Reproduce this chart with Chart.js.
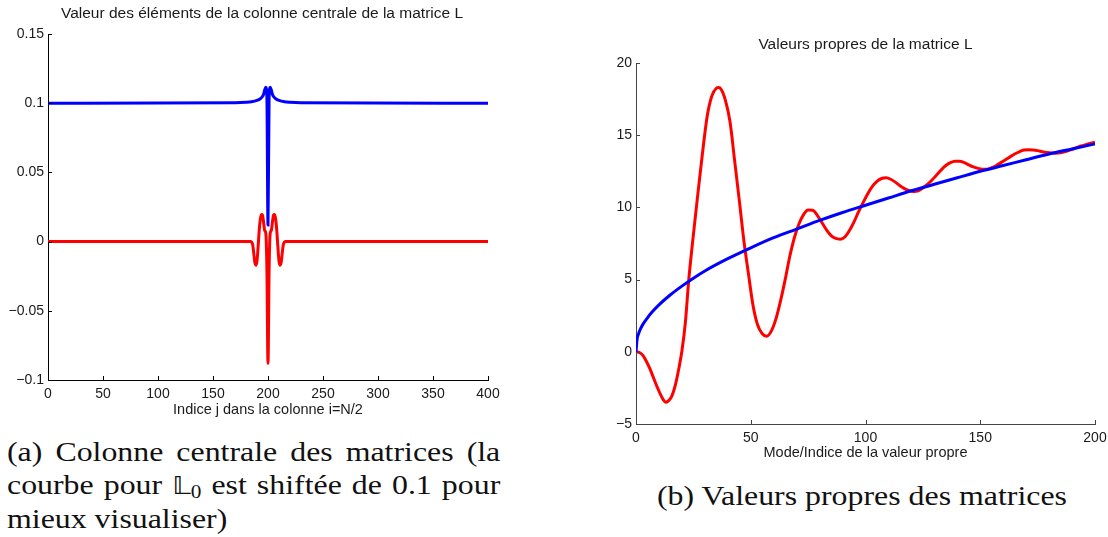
<!DOCTYPE html>
<html>
<head>
<meta charset="utf-8">
<script src="https://cdn.jsdelivr.net/npm/chart.js@4.4.1/dist/chart.umd.min.js"></script>
<style>
  html, body { margin: 0; padding: 0; background: #fff; overflow: hidden; }
  body { width: 1108px; height: 537px; position: relative; }
  .box { position: absolute; }
  .caption {
    position: absolute;
    font-family: "Liberation Serif", "DejaVu Serif", serif;
    font-size: 27px;
    line-height: 33px;
    color: #111;
    transform-origin: 0 0;
    transform: scaleX(1.18);
  }
  #capA { left: 7px; top: 436px; width: 418px; }
  #capA .j { text-align: justify; text-align-last: justify; }
  #capB { left: 657px; top: 480px; white-space: nowrap; }
  .bb { font-family: "DejaVu Sans", "Noto Sans", serif; font-size: 24px; }
  sub { font-size: 18px; line-height: 0; vertical-align: -4px; }
</style>
</head>
<body>
<div class="box" style="left:0;top:0;width:510px;height:425px;"><canvas id="colChart"></canvas></div>
<div class="box" style="left:590px;top:30px;width:550px;height:434px;"><canvas id="eigChart"></canvas></div>
<div class="caption" id="capA">
  <div class="j">(a) Colonne centrale des matrices (la</div>
  <div class="j">courbe pour <span class="bb">𝕃</span><sub>0</sub> est shiftée de 0.1 pour</div>
  <div>mieux visualiser)</div>
</div>
<div class="caption" id="capB">(b) Valeurs propres des matrices</div>

<script>
// --- (a) colonne centrale : indice j, L0 (décalée de 0.1) et L
const colJ    = [0, 170, 180, 185, 190, 193, 195, 196, 197, 198, 199, 200, 201, 202, 203, 204, 205, 207, 210, 215, 220, 230, 400];
const colL0   = [0.1, 0.1003, 0.1006, 0.101, 0.102, 0.1032, 0.1048, 0.1065, 0.1095, 0.1115, 0.104, 0.012, 0.104, 0.1115, 0.1095, 0.1065, 0.1048, 0.1032, 0.102, 0.101, 0.1006, 0.1003, 0.1];
const colJRed = [0, 184, 186, 187, 188, 189, 190, 191, 192, 193, 194, 195, 196, 197, 198, 199, 200, 201, 202, 203, 204, 205, 206, 207, 208, 209, 210, 211, 212, 213, 214, 216, 400];
const colL    = [0, 0, -0.002, -0.008, -0.015, -0.017, -0.014, -0.004, 0.008, 0.016, 0.0195, 0.019, 0.014, 0.008, 0.006, -0.02, -0.088, -0.02, 0.006, 0.008, 0.014, 0.019, 0.0195, 0.016, 0.008, -0.004, -0.014, -0.017, -0.015, -0.008, -0.002, 0, 0];

// --- (b) valeurs propres
const eigModeBlue = [0, 0.5, 1, 2, 3, 5, 7, 10, 15, 20, 25, 30, 40, 50, 60, 70, 80, 90, 100, 110, 120, 130, 140, 150, 160, 170, 180, 190, 200];
const eigL0 = [0, 0.9, 1.2, 1.6, 1.9, 2.35, 2.75, 3.25, 3.95, 4.55, 5.1, 5.6, 6.45, 7.2, 7.9, 8.5, 9.1, 9.65, 10.15, 10.65, 11.15, 11.6, 12.05, 12.5, 12.9, 13.3, 13.7, 14.05, 14.4];
const eigModeRed = [0, 1.5, 3, 4.5, 6, 7.5, 9, 10.5, 12, 13, 14, 15.5, 17, 18.5, 20, 21.5, 23, 25, 27, 29, 31, 33, 35, 36, 37, 39, 41, 43, 45, 47, 49, 51, 53, 55, 57, 59, 61, 63, 65, 67, 69, 71, 73, 75, 77, 79, 81, 83, 85, 87, 89, 91, 93, 95, 97, 99, 101, 103, 105, 107, 109, 111, 113, 115, 117, 119, 121, 123, 125, 127, 129, 131, 133, 135, 137, 139, 141, 143, 145, 147, 149, 151, 153, 155, 157, 159, 161, 163, 165, 167, 169, 171, 173, 175, 177, 179, 181, 183, 185, 187, 189, 191, 193, 195, 197, 199, 200];
const eigL = [0, -0.05, -0.25, -0.65, -1.15, -1.75, -2.35, -2.9, -3.35, -3.5, -3.42, -3.1, -2.4, -1.3, 0.05, 2.0, 5.0, 8.1, 11.0, 13.8, 16.3, 17.7, 18.25, 18.3, 18.2, 17.4, 15.9, 13.2, 10.5, 7.7, 5.4, 3.2, 1.85, 1.25, 1.08, 1.45, 2.3, 3.55, 5.0, 6.6, 7.9, 8.85, 9.5, 9.82, 9.8, 9.45, 8.95, 8.45, 8.05, 7.85, 7.8, 7.95, 8.4, 9.0, 9.7, 10.35, 10.95, 11.45, 11.8, 12.0, 12.05, 11.95, 11.75, 11.5, 11.3, 11.15, 11.1, 11.15, 11.35, 11.6, 11.9, 12.25, 12.6, 12.9, 13.1, 13.2, 13.2, 13.1, 12.95, 12.8, 12.7, 12.65, 12.65, 12.75, 12.9, 13.1, 13.3, 13.5, 13.7, 13.85, 13.97, 14.0, 13.98, 13.93, 13.86, 13.8, 13.76, 13.75, 13.78, 13.86, 13.97, 14.08, 14.2, 14.3, 14.4, 14.48, 14.5];

const colXTicks = [0, 400, 50];      // min, max, pas
const colYTicks = [-0.1, 0.15, 0.05];
const eigXTicks = [0, 200, 50];
const eigYTicks = [-5, 20, 5];

const pts = (xs, ys) => xs.map((x, i) => ({ x: x, y: ys[i] }));
const minus = (v) => String(+v.toFixed(2)).replace('-', '\u2212');
const sans = 'Liberation Sans, Arial, Helvetica, sans-serif';

// petits traits de graduation vers l'interieur (style matlab)
const inwardTicks = {
  id: 'inwardTicks',
  afterDatasetsDraw(chart, args, opts) {
    const { ctx, chartArea } = chart;
    const xs = chart.scales.x, ys = chart.scales.y;
    ctx.save();
    ctx.strokeStyle = opts.color;
    ctx.lineWidth = 1;
    ctx.beginPath();
    xs.ticks.forEach((t, i) => {
      const px = Math.round(xs.getPixelForTick(i)) + 0.5;
      ctx.moveTo(px, chartArea.bottom);
      ctx.lineTo(px, chartArea.bottom - opts.len);
    });
    ys.ticks.forEach((t, i) => {
      const py = Math.round(ys.getPixelForTick(i)) + 0.5;
      ctx.moveTo(chartArea.left, py);
      ctx.lineTo(chartArea.left + opts.len, py);
    });
    ctx.stroke();
    ctx.restore();
  }
};

// titre au-dessus des axes, centre sur la zone de trace (+ decalage)
const axesTitle = {
  id: 'axesTitle',
  afterDraw(chart, args, opts) {
    const { ctx, chartArea } = chart;
    ctx.save();
    ctx.font = opts.size + 'px ' + sans;
    ctx.fillStyle = '#1a1a1a';
    ctx.textAlign = 'center';
    ctx.textBaseline = 'middle';
    ctx.fillText(opts.text, (chartArea.left + chartArea.right) / 2 + opts.dx, opts.y);
    ctx.restore();
  }
};

function makeChart(id, o) {
  return new Chart(document.getElementById(id), {
    type: 'line',
    data: {
      datasets: [
        { data: pts(o.bx, o.by), borderColor: '#0000ff', borderWidth: 3, pointRadius: 0, cubicInterpolationMode: 'monotone', fill: false },
        { data: pts(o.rx, o.ry), borderColor: '#ff0000', borderWidth: 3, pointRadius: 0, cubicInterpolationMode: 'monotone', fill: false },
      ],
    },
    options: {
      responsive: true,
      maintainAspectRatio: false,
      animation: false,
      layout: { padding: { left: 0, right: o.padRight, top: o.padTop, bottom: 0 } },
      plugins: {
        legend: { display: false },
        tooltip: { enabled: false },
        title: { display: false },
        axesTitle: { text: o.title, size: 15.5, y: o.titleY, dx: o.titleDx },
        inwardTicks: { color: o.axisColor, len: 4 },
      },
      scales: {
        x: {
          type: 'linear',
          min: o.xt[0], max: o.xt[1],
          grid: { display: false, drawTicks: false },
          border: { display: true, color: o.axisColor, width: 1 },
          ticks: { stepSize: o.xt[2], color: '#1a1a1a', font: { family: sans, size: 14 }, padding: 6, maxRotation: 0, autoSkip: false, callback: minus },
          title: { display: true, text: o.xlabel, color: '#1a1a1a', font: { family: sans, size: 14.5, lineHeight: 1.2 }, padding: { top: 0, bottom: o.xTitleBottom } },
          afterFit: (s) => { s.height = o.xHeight; },
        },
        y: {
          min: o.yt[0], max: o.yt[1],
          grid: { display: false, drawTicks: false },
          border: { display: true, color: o.axisColor, width: 1 },
          ticks: { stepSize: o.yt[2], color: '#1a1a1a', font: { family: sans, size: 14 }, padding: 4, callback: minus },
          afterFit: (s) => { s.width = o.yWidth; },
        },
      },
    },
    plugins: [inwardTicks, axesTitle],
  });
}

makeChart('colChart', {
  bx: colJ, by: colL0, rx: colJRed, ry: colL,
  xt: colXTicks, yt: colYTicks,
  title: 'Valeur des éléments de la colonne centrale de la matrice L',
  xlabel: 'Indice j dans la colonne i=N/2',
  axisColor: '#000', padRight: 22, padTop: 34, titleY: 14, titleDx: -6,
  xHeight: 45, xTitleBottom: 6.5, yWidth: 48,
});

makeChart('eigChart', {
  bx: eigModeBlue, by: eigL0, rx: eigModeRed, ry: eigL,
  xt: eigXTicks, yt: eigYTicks,
  title: 'Valeurs propres de la matrice L',
  xlabel: 'Mode/Indice de la valeur propre',
  axisColor: '#444', padRight: 45, padTop: 33, titleY: 15, titleDx: 0,
  xHeight: 40, xTitleBottom: 2.6, yWidth: 46,
});
</script>
</body>
</html>
